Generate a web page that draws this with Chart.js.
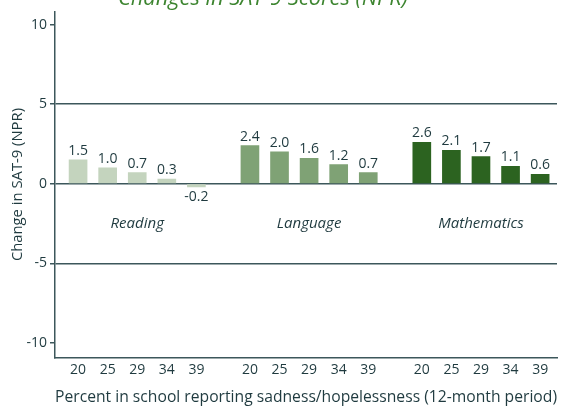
<html lang="en">
<head>
    <meta charset="UTF-8">
    <title>Changes in SAT-9 Scores</title>
    <script src="https://cdn.jsdelivr.net/npm/chart.js@4.4.1/dist/chart.umd.min.js"></script>
    <style>
        html, body { margin: 0; padding: 0; background: #fff; overflow: hidden; }
        #wrap { position: relative; width: 572px; height: 409px; }
        #title {
            position: absolute; left: 118px; top: -14px;
            font: italic 21.8px "Open Sans"; line-height: 22px;
            color: #3d8530; white-space: nowrap;
        }
    </style>
</head>
<body>
    <div id="wrap">
        <canvas id="chart" width="572" height="409"></canvas>
        <div id="title">Changes in SAT-9 Scores (NPR)</div>
    </div>
    <script>
        // data
        const groups = ["Reading", "Language", "Mathematics"];
        const percents = ["20", "25", "29", "34", "39"];
        const reading = [1.5, 1.0, 0.7, 0.3, -0.2];
        const language = [2.4, 2.0, 1.6, 1.2, 0.7];
        const mathematics = [2.6, 2.1, 1.7, 1.1, 0.6];
        const groupColors = ["#c4d4be", "#7fa275", "#2c6320"];

        const GROUP_STEP = 5.81; // slots between the first bars of two groups
        const textColor = "#1f3a3f";
        const lineColor = "#3c575b";
        const font = "Open Sans";

        const series = [reading, language, mathematics];
        const points = [], colors = [], tickPos = [], tickText = [], groupMid = [];
        series.forEach(function (vals, g) {
            vals.forEach(function (v, i) {
                const x = g * GROUP_STEP + i;
                points.push({ x: x, y: v });
                colors.push(groupColors[g]);
                tickPos.push(x);
                tickText.push(percents[i]);
            });
            groupMid.push(g * GROUP_STEP + 2);
        });

        const labelPlugin = {
            id: "labels",
            afterDatasetsDraw(chart) {
                const ctx = chart.ctx;
                const meta = chart.getDatasetMeta(0);
                ctx.save();
                ctx.fillStyle = textColor;
                ctx.textAlign = "center";
                ctx.font = "14px '" + font + "'";
                meta.data.forEach(function (bar, i) {
                    const v = points[i].y;
                    if (v >= 0) {
                        ctx.textBaseline = "bottom";
                        ctx.fillText(v.toFixed(1), bar.x, bar.y - 2);
                    } else {
                        ctx.textBaseline = "top";
                        ctx.fillText(v.toFixed(1), bar.x, bar.y + 3);
                    }
                });
                ctx.font = "italic 15px '" + font + "'";
                ctx.textBaseline = "middle";
                const xs = chart.scales.x, ys = chart.scales.y;
                groups.forEach(function (name, g) {
                    ctx.fillText(name, xs.getPixelForValue(groupMid[g]), ys.getPixelForValue(-2.5));
                });
                ctx.restore();
            }
        };

        new Chart("chart", {
            type: "bar",
            data: {
                datasets: [{
                    data: points,
                    backgroundColor: colors,
                    barThickness: 18
                }]
            },
            options: {
                responsive: false,
                animation: false,
                layout: { padding: { top: 10.5, right: 15, left: 0, bottom: 0 } },
                plugins: { legend: { display: false }, tooltip: { enabled: false } },
                scales: {
                    x: {
                        type: "linear",
                        offset: false,
                        min: -0.78,
                        max: 16.19,
                        grid: { display: false, drawTicks: false },
                        border: { color: lineColor, width: 1.5 },
                        afterFit(s) { s.height = 51.3; },
                        afterBuildTicks(s) { s.ticks = tickPos.map(function (v) { return { value: v }; }); },
                        ticks: {
                            color: textColor,
                            font: { family: font, size: 14 },
                            padding: 4,
                            maxRotation: 0,
                            autoSkip: false,
                            callback: function (v, i) { return tickText[i]; }
                        },
                        title: {
                            display: true,
                            text: "Percent in school reporting sadness/hopelessness (12-month period)",
                            color: textColor,
                            font: { family: font, size: 15.8 },
                            padding: { top: 0, bottom: 2.5 }
                        }
                    },
                    y: {
                        min: -10.93,
                        max: 10.83,
                        afterFit(s) { s.width = 55; },
                        border: { color: lineColor, width: 1.5 },
                        grid: {
                            color: function (c) { return Math.abs(c.tick.value) < 10 ? lineColor : "transparent"; },
                            tickColor: lineColor,
                            tickLength: 5,
                            lineWidth: 1.5
                        },
                        ticks: {
                            stepSize: 5,
                            includeBounds: false,
                            color: textColor,
                            font: { family: font, size: 14 },
                            padding: 3
                        },
                        title: {
                            display: true,
                            text: "Change in SAT-9 (NPR)",
                            color: textColor,
                            font: { family: font, size: 14.8 },
                            padding: { top: 9, bottom: 0 }
                        }
                    }
                }
            },
            plugins: [labelPlugin]
        });
    </script>
</body>
</html>
